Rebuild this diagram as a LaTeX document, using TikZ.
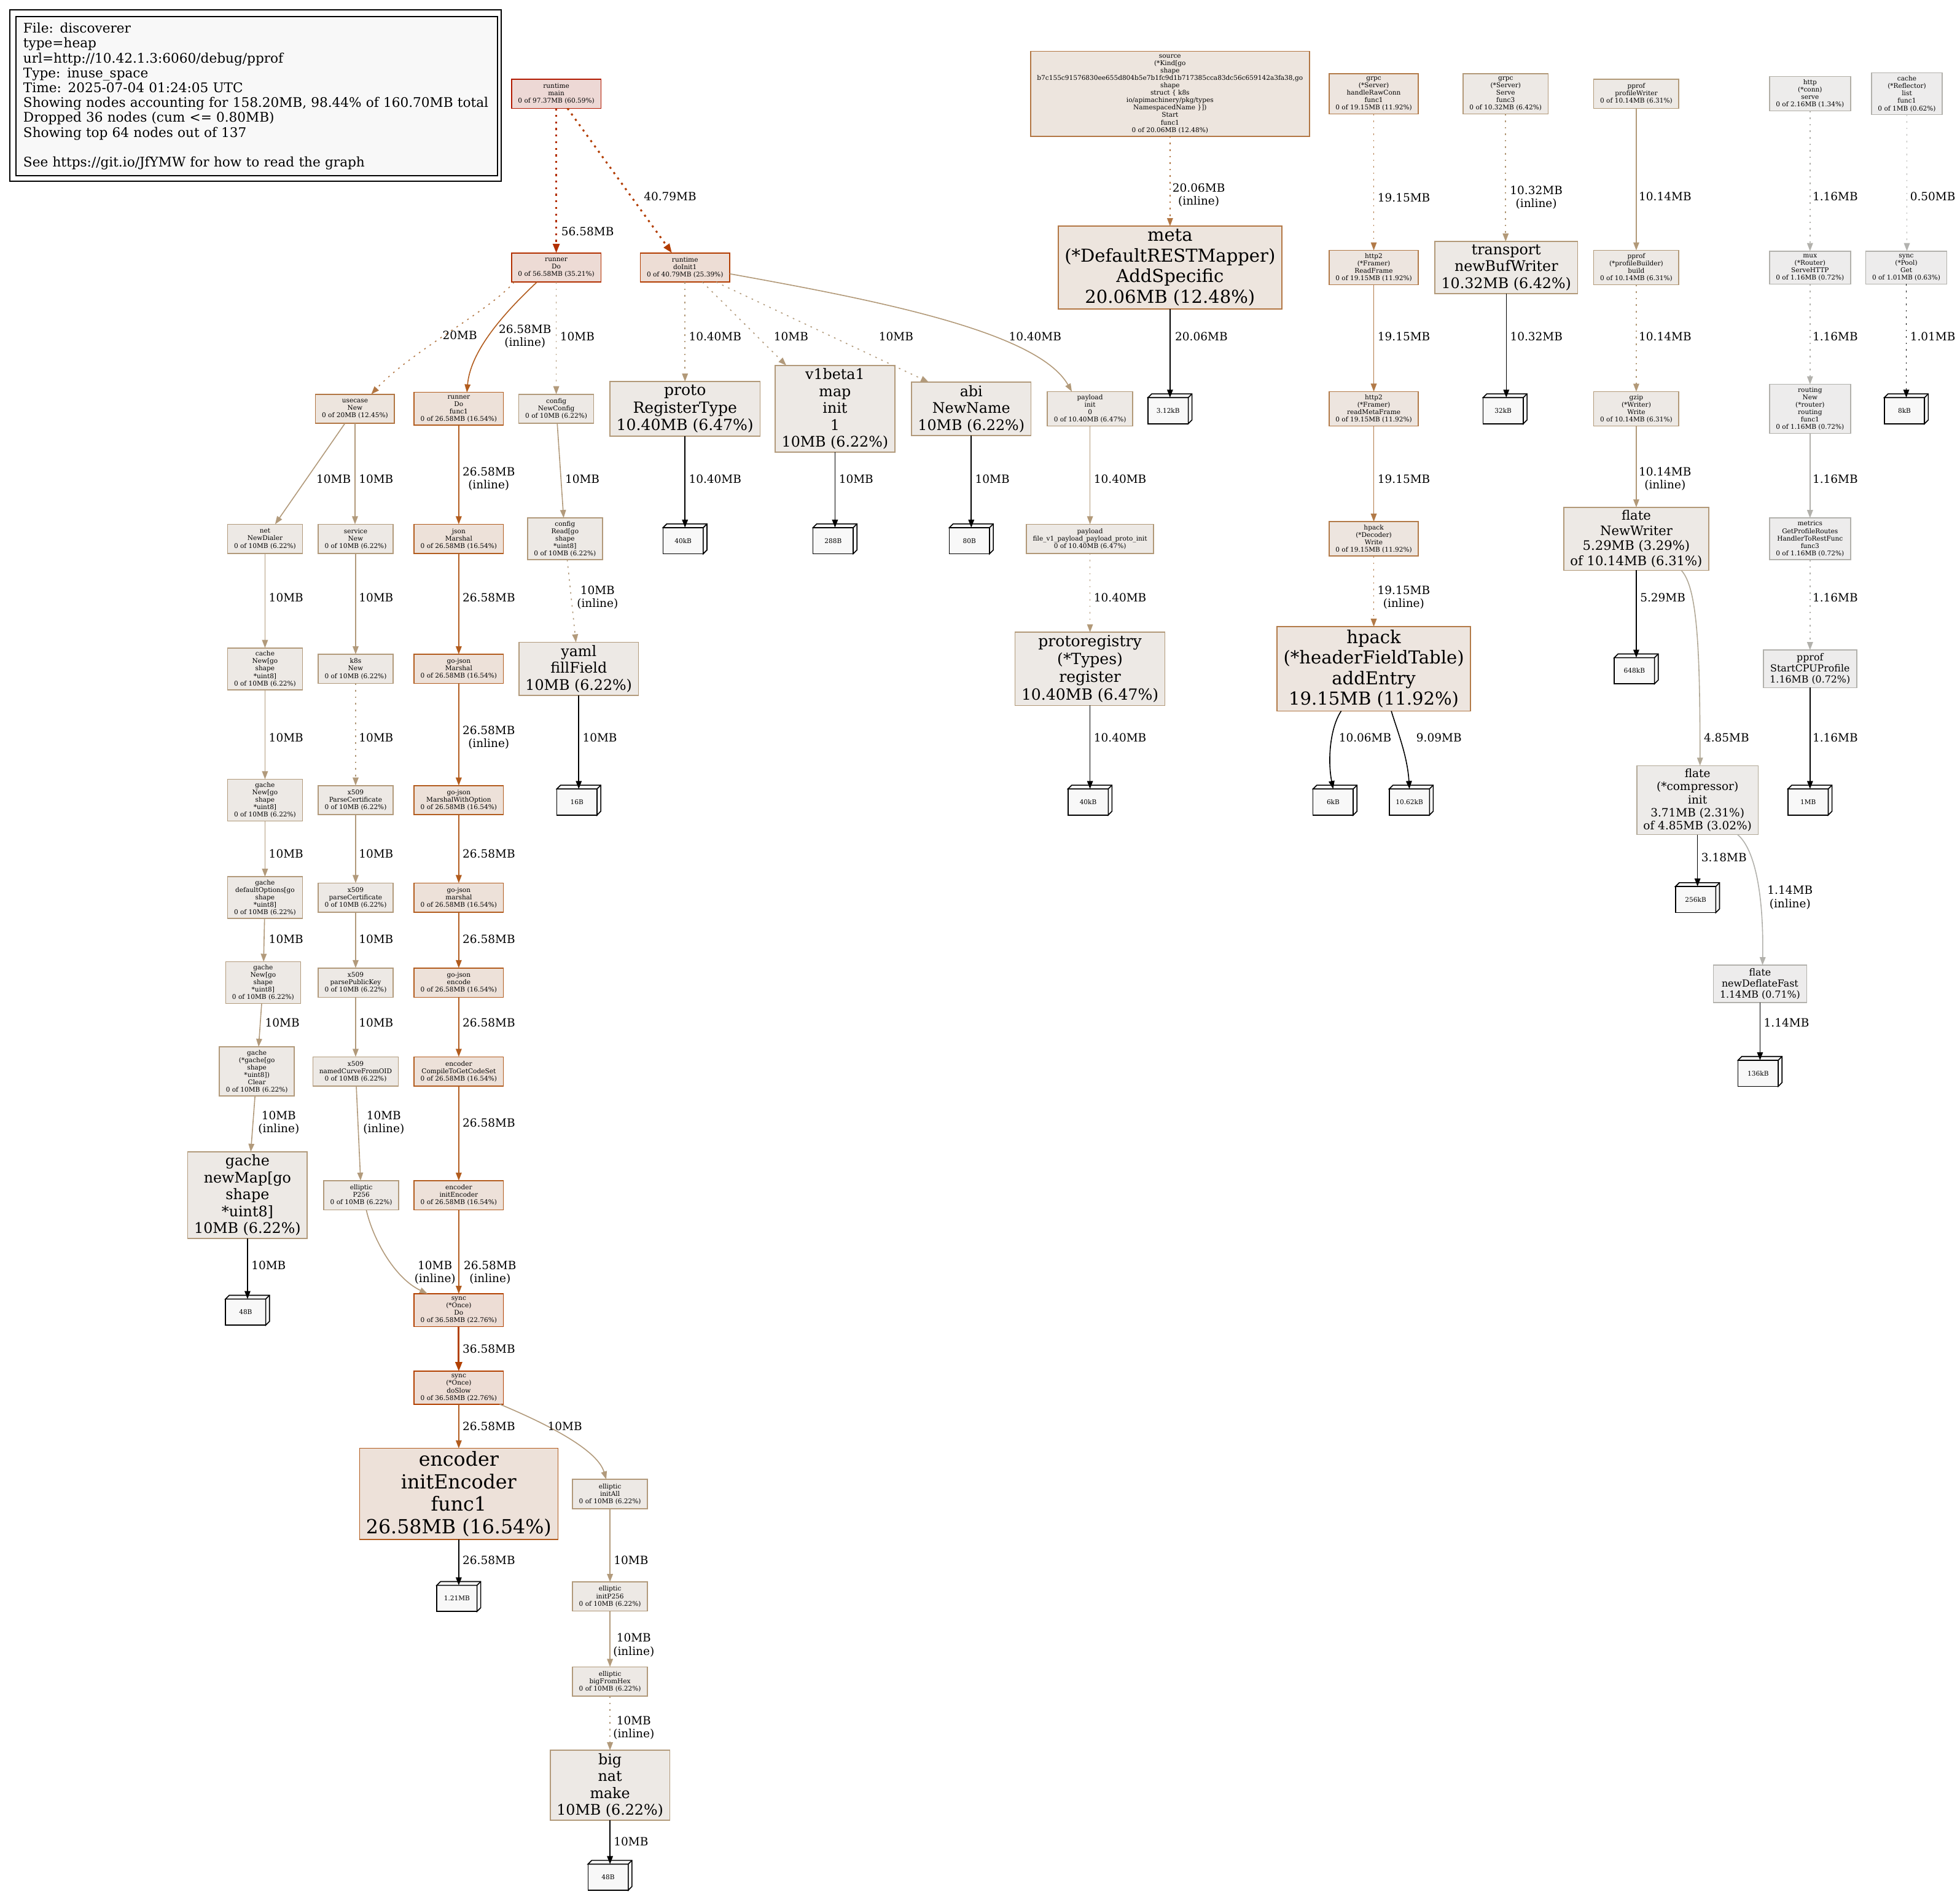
\documentclass[tikz,border=0pt]{standalone}
\usepackage{fontspec}
\setmainfont{DejaVu Serif}
\usetikzlibrary{arrows.meta,calc}
\definecolor{cAb}{HTML}{B21800}\definecolor{cAf}{HTML}{EDD8D5}
\definecolor{cBb}{HTML}{B22F00}\definecolor{cBf}{HTML}{EDDBD5}
\definecolor{cCb}{HTML}{B23C00}\definecolor{cCf}{HTML}{EDDDD5}
\definecolor{cDb}{HTML}{B24000}\definecolor{cDf}{HTML}{EDDDD5}
\definecolor{cEb}{HTML}{B25C1E}\definecolor{cEf}{HTML}{EDE1D9}
\definecolor{cFb}{HTML}{B27643}\definecolor{cFf}{HTML}{EDE5DE}
\definecolor{cGb}{HTML}{B27A48}\definecolor{cGf}{HTML}{EDE5DF}
\definecolor{cHb}{HTML}{B29978}\definecolor{cHf}{HTML}{EDE9E5}
\definecolor{cIb}{HTML}{B29A7B}\definecolor{cIf}{HTML}{EDE9E5}
\definecolor{cJb}{HTML}{B2A997}\definecolor{cJf}{HTML}{EDEBE9}
\definecolor{cKb}{HTML}{B2AFA6}\definecolor{cKf}{HTML}{EDECEB}
\definecolor{cLb}{HTML}{B2B1AC}\definecolor{cLf}{HTML}{EDECEC}
\definecolor{cMb}{HTML}{B2B2AF}
\definecolor{leafbg}{HTML}{F8F8F8}
\tikzset{
  nd/.style={draw, rectangle, line width=1.6pt, align=center, inner xsep=10.5pt, inner ysep=5pt, minimum width=71pt, minimum height=47.5pt, outer sep=0pt},
  fa/.style={font=\fontsize{10.56}{12.1}\selectfont},
  fb/.style={font=\fontsize{15.84}{18.3}\selectfont},
  fc/.style={font=\fontsize{18.48}{21.3}\selectfont},
  fd/.style={font=\fontsize{21.12}{24.4}\selectfont},
  fe/.style={font=\fontsize{23.76}{27.4}\selectfont},
  ff/.style={font=\fontsize{25.08}{28.9}\selectfont},
  fg/.style={font=\fontsize{29.04}{33.5}\selectfont},
  fh/.style={font=\fontsize{31.68}{36.5}\selectfont},
  kA/.style={nd, draw=cAb, fill=cAf}, kB/.style={nd, draw=cBb, fill=cBf},
  kC/.style={nd, draw=cCb, fill=cCf}, kD/.style={nd, draw=cDb, fill=cDf},
  kE/.style={nd, draw=cEb, fill=cEf}, kF/.style={nd, draw=cFb, fill=cFf},
  kG/.style={nd, draw=cGb, fill=cGf}, kH/.style={nd, draw=cHb, fill=cHf},
  kI/.style={nd, draw=cIb, fill=cIf}, kJ/.style={nd, draw=cJb, fill=cJf},
  kK/.style={nd, draw=cKb, fill=cKf}, kL/.style={nd, draw=cLb, fill=cLf},
  leaf/.style={draw=black, line width=1.6pt, fill=leafbg, fa, minimum width=65.5pt, minimum height=42.5pt, inner sep=0pt, outer sep=0pt},
  ed/.style={line width=1.6pt, -{Triangle[length=13pt,width=9.5pt]}},
  edk/.style={ed, draw=black},
  dt/.style={dash pattern=on 2.6pt off 8pt},
  dtk/.style={dash pattern=on 3.3pt off 7.4pt},
  thk/.style={line width=3pt, -{Triangle[length=15pt,width=11pt]}},
  el/.style={font=\fontsize{18.48}{21.5}\selectfont, inner sep=0pt, anchor=west},
  elc/.style={font=\fontsize{18.48}{21.5}\selectfont, inner sep=0pt, align=center},
}
\newcommand\leafnode[4]{%
  \node[leaf] (#1) at (#2-1.5,#3+1.5) {#4};
  \draw[line width=1.6pt, fill=leafbg, line join=miter] (#1.north west) -- ++(3,-3) -- ($(#1.north east)+(3,-3)$) -- ($(#1.south east)+(3,-3)$) -- (#1.south east) -- (#1.north east) -- cycle;
  \draw[line width=1.6pt] (#1.north east) -- ++(3,-3);
}
\begin{document}
\begin{tikzpicture}[x=2.035pt,y=-2.035pt]
\path[use as bounding box, fill=white] (0,0) rectangle (1568,1517);
% legend
\draw[line width=1.6pt] (8,8) rectangle (401,145);
\node[draw=black, line width=1.6pt, fill=leafbg, anchor=north west, minimum width=783.5pt, minimum height=259pt, text width=760pt, inner xsep=11.7pt, inner ysep=0pt, align=left, font=\fontsize{21.6}{24.2}\selectfont] (legend) at (12.5,13) {File: discoverer\\type=heap\\url=http://10.42.1.3:6060/debug/pprof\\Type: inuse\_space\\Time: 2025-07-04 01:24:05 UTC\\Showing nodes accounting for 158.20MB, 98.44\% of 160.70MB total\\Dropped 36 nodes (cum <= 0.80MB)\\Showing top 64 nodes out of 137\\\mbox{}\\See https://git.io/JfYMW for how to read the graph};

% ---------- nodes ----------
\node[kA,fa] (main) at (445,75) {runtime\\main\\0 of 97.37MB (60.59\%)};
\node[kF,fa] (src) at (936,75) {source\\(*Kind[go\\shape\\b7c155c91576830ee655d804b5e7b1fc9d1b717385cca83dc56c659142a3fa38,go\\shape\\struct \{ k8s\\io/apimachinery/pkg/types\\NamespacedName \}])\\Start\\func1\\0 of 20.06MB (12.48\%)};
\node[kG,fa] (grpcA) at (1099,75) {grpc\\(*Server)\\handleRawConn\\func1\\0 of 19.15MB (11.92\%)};
\node[kH,fa] (grpcB) at (1204.5,75) {grpc\\(*Server)\\Serve\\func3\\0 of 10.32MB (6.42\%)};
\node[kH,fa] (ppw) at (1309,75) {pprof\\profileWriter\\0 of 10.14MB (6.31\%)};
\node[kK,fa] (hts) at (1448,75) {http\\(*conn)\\serve\\0 of 2.16MB (1.34\%)};
\node[kL,fa] (crf) at (1525.5,75) {cache\\(*Reflector)\\list\\func1\\0 of 1MB (0.62\%)};

\node[kB,fa] (rdo) at (445,214) {runner\\Do\\0 of 56.58MB (35.21\%)};
\node[kC,fa] (di) at (548,214) {runtime\\doInit1\\0 of 40.79MB (25.39\%)};
\node[kF,fg] (meta) at (936,214) {meta\\(*DefaultRESTMapper)\\AddSpecific\\20.06MB (12.48\%)};
\node[kG,fa] (h2rf) at (1099,214) {http2\\(*Framer)\\ReadFrame\\0 of 19.15MB (11.92\%)};
\node[kH,fe] (tr) at (1205,214) {transport\\newBufWriter\\10.32MB (6.42\%)};
\node[kH,fa] (ppb) at (1309,214) {pprof\\(*profileBuilder)\\build\\0 of 10.14MB (6.31\%)};
\node[kL,fa] (mux) at (1448,214) {mux\\(*Router)\\ServeHTTP\\0 of 1.16MB (0.72\%)};
\node[kL,fa] (pool) at (1525,214) {sync\\(*Pool)\\Get\\0 of 1.01MB (0.63\%)};

\node[kF,fa] (uc) at (284,327) {usecase\\New\\0 of 20MB (12.45\%)};
\node[kE,fa] (rdf) at (367,327) {runner\\Do\\func1\\0 of 26.58MB (16.54\%)};
\node[kI,fa] (cnc) at (445,327) {config\\NewConfig\\0 of 10MB (6.22\%)};
\node[kH,ff] (proto) at (548,327) {proto\\RegisterType\\10.40MB (6.47\%)};
\node[kI,fe] (v1) at (668,327) {v1beta1\\map\\init\\1\\10MB (6.22\%)};
\node[kI,fe] (abi) at (777,327) {abi\\NewName\\10MB (6.22\%)};
\node[kH,fa] (pli) at (872,327) {payload\\init\\0\\0 of 10.40MB (6.47\%)};
\leafnode{L312}{936}{327}{3.12kB}
\node[kG,fa] (h2rm) at (1099,327) {http2\\(*Framer)\\readMetaFrame\\0 of 19.15MB (11.92\%)};
\leafnode{L32k}{1204}{327}{32kB}
\node[kH,fa] (gz) at (1309,327) {gzip\\(*Writer)\\Write\\0 of 10.14MB (6.31\%)};
\node[kL,fa] (rt) at (1448,327) {routing\\New\\(*router)\\routing\\func1\\0 of 1.16MB (0.72\%)};
\leafnode{L8k}{1525}{327}{8kB}

\node[kI,fa] (net) at (212,431) {net\\NewDialer\\0 of 10MB (6.22\%)};
\node[kI,fa] (svc) at (284.5,431) {service\\New\\0 of 10MB (6.22\%)};
\node[kE,fa] (jm) at (367,431) {json\\Marshal\\0 of 26.58MB (16.54\%)};
\node[kI,fa] (crd) at (452,431) {config\\Read[go\\shape\\{}*uint8]\\0 of 10MB (6.22\%)};
\leafnode{L40a}{548}{431}{40kB}
\leafnode{L288}{668}{431}{288B}
\leafnode{L80}{777}{431}{80B}
\node[kH,fa] (plf) at (872,431) {payload\\file\_v1\_payload\_payload\_proto\_init\\0 of 10.40MB (6.47\%)};
\node[kG,fa] (hw) at (1099,431) {hpack\\(*Decoder)\\Write\\0 of 19.15MB (11.92\%)};
\node[kH,fd] (fnw) at (1309,431) {flate\\NewWriter\\5.29MB (3.29\%)\\of 10.14MB (6.31\%)};
\node[kL,fa] (met) at (1448,431) {metrics\\GetProfileRoutes\\HandlerToRestFunc\\func3\\0 of 1.16MB (0.72\%)};

\node[kI,fa] (cn) at (212,535) {cache\\New[go\\shape\\{}*uint8]\\0 of 10MB (6.22\%)};
\node[kI,fa] (k8s) at (284.5,535) {k8s\\New\\0 of 10MB (6.22\%)};
\node[kE,fa] (gjm) at (367,535) {go-json\\Marshal\\0 of 26.58MB (16.54\%)};
\node[kI,fe] (yaml) at (463,535) {yaml\\fillField\\10MB (6.22\%)};
\node[kH,ff] (preg) at (872,535) {protoregistry\\(*Types)\\register\\10.40MB (6.47\%)};
\node[kG,fg] (hae) at (1099,535) {hpack\\(*headerFieldTable)\\addEntry\\19.15MB (11.92\%)};
\leafnode{L648}{1309}{535}{648kB}
\node[kL,fb] (scp) at (1448,535) {pprof\\StartCPUProfile\\1.16MB (0.72\%)};

\node[kI,fa] (gn1) at (212,640) {gache\\New[go\\shape\\{}*uint8]\\0 of 10MB (6.22\%)};
\node[kI,fa] (xpc) at (284.5,640) {x509\\ParseCertificate\\0 of 10MB (6.22\%)};
\node[kE,fa] (gjmo) at (367,640) {go-json\\MarshalWithOption\\0 of 26.58MB (16.54\%)};
\leafnode{L16}{463}{640}{16B}
\leafnode{L40b}{872}{640}{40kB}
\leafnode{L6k}{1068}{640}{6kB}
\leafnode{L1062}{1129}{640}{10.62kB}
\node[kJ,fc] (fci) at (1358,640) {flate\\(*compressor)\\init\\3.71MB (2.31\%)\\of 4.85MB (3.02\%)};
\leafnode{L1MB}{1448}{640}{1MB}

\node[kI,fa] (gdo) at (212,718) {gache\\defaultOptions[go\\shape\\{}*uint8]\\0 of 10MB (6.22\%)};
\node[kI,fa] (xpc2) at (284.5,718) {x509\\parseCertificate\\0 of 10MB (6.22\%)};
\node[kE,fa] (gjml) at (367,718) {go-json\\marshal\\0 of 26.58MB (16.54\%)};
\leafnode{L256}{1358}{718}{256kB}

\node[kI,fa] (gn2) at (210.5,786) {gache\\New[go\\shape\\{}*uint8]\\0 of 10MB (6.22\%)};
\node[kI,fa] (xppk) at (284.5,786) {x509\\parsePublicKey\\0 of 10MB (6.22\%)};
\node[kE,fa] (gje) at (367,786) {go-json\\encode\\0 of 26.58MB (16.54\%)};
\node[kL,fb] (fndf) at (1408,787) {flate\\newDeflateFast\\1.14MB (0.71\%)};

\node[kI,fa] (gcl) at (205.5,857) {gache\\(*gache[go\\shape\\{}*uint8])\\Clear\\0 of 10MB (6.22\%)};
\node[kI,fa] (xnc) at (284.5,857) {x509\\namedCurveFromOID\\0 of 10MB (6.22\%)};
\node[kE,fa] (ecs) at (367,857) {encoder\\CompileToGetCodeSet\\0 of 26.58MB (16.54\%)};
\leafnode{L136}{1408}{857}{136kB}

\node[kI,fe] (gnm) at (198,956) {gache\\newMap[go\\shape\\{}*uint8]\\10MB (6.22\%)};
\node[kI,fa] (p256) at (289,956) {elliptic\\P256\\0 of 10MB (6.22\%)};
\node[kE,fa] (eie) at (367,956) {encoder\\initEncoder\\0 of 26.58MB (16.54\%)};

\leafnode{L48a}{198}{1048}{48B}
\node[kD,fa] (sod) at (367,1048) {sync\\(*Once)\\Do\\0 of 36.58MB (22.76\%)};
\node[kD,fa] (sds) at (367,1110) {sync\\(*Once)\\doSlow\\0 of 36.58MB (22.76\%)};
\node[kE,fh] (eif) at (367,1195) {encoder\\initEncoder\\func1\\26.58MB (16.54\%)};
\node[kI,fa] (eia) at (488,1195) {elliptic\\initAll\\0 of 10MB (6.22\%)};
\leafnode{L121}{367}{1277}{1.21MB}
\node[kI,fa] (eip) at (488,1277) {elliptic\\initP256\\0 of 10MB (6.22\%)};
\node[kI,fa] (ebh) at (488,1345) {elliptic\\bigFromHex\\0 of 10MB (6.22\%)};
\node[kI,fe] (bnm) at (488,1428) {big\\nat\\make\\10MB (6.22\%)};
\leafnode{L48b}{488}{1500}{48B}

% ---------- edges ----------
\draw[thk,dtk,draw=cBb] (main) -- (rdo);
\draw[thk,dtk,draw=cCb] ($(main.south)+(9,0)$) -- ($(di.north)+(-10.5,0)$);
\node[el] (e1) at (449,185) {56.58MB};
\node[el] (e2) at (515,157) {40.79MB};

\draw[ed,dt,draw=cFb] ($(rdo.south west)+(2,0)$) .. controls (390,250) and (330,280) .. ($(uc.north)+(13,0)$);
\node[el] (e3) at (354,268) {20MB};
\draw[ed,draw=cEb] ($(rdo.south)+(-15.5,0)$) .. controls (395,258) and (376,285) .. ($(rdf.north)+(6.5,0)$);
\node[elc] (e4) at (420,269) {26.58MB\\(inline)};
\draw[ed,dt,draw=cIb] (rdo) -- (cnc);
\node[el] (e5) at (448,269) {10MB};
\draw[ed,dt,draw=cHb] (di) -- (proto);
\node[el] (e6) at (551,269) {10.40MB};
\draw[ed,dt,draw=cIb] ($(di.south)+(14,0)$) -- ($(v1.north)+(-39,0)$);
\node[el] (e7) at (619,269) {10MB};
\draw[ed,dt,draw=cIb] ($(di.south)+(25,0)$) -- ($(abi.north)+(-34,0)$);
\node[el] (e8) at (703,269) {10MB};
\draw[ed,draw=cHb] ($(di.east)+(0,5)$) .. controls (700,240) and (830,265) .. ($(pli.north)+(-14.5,0)$);
\node[el] (e9) at (807,269) {10.40MB};

\draw[ed,dt,draw=cFb] (src) -- (meta);
\node[elc] (e10) at (959,156) {20.06MB\\(inline)};
\draw[edk] (meta) -- (meta |- L312.north);
\node[el] (e11) at (940,269) {20.06MB};

\draw[ed,dt,draw=cGb] (grpcA) -- (h2rf);
\node[el] (e12) at (1102,158) {19.15MB};
\draw[ed,draw=cGb] (h2rf) -- (h2rm);
\node[el] (e13) at (1102,269) {19.15MB};
\draw[ed,draw=cGb] (h2rm) -- (hw);
\node[el] (e14) at (1102,383) {19.15MB};
\draw[ed,dt,draw=cGb] (hw) -- (hae);
\node[elc] (e15) at (1123,478) {19.15MB\\(inline)};
\draw[edk] ($(hae.south)+(-26,0)$) .. controls (1064,582) and (1062,608) .. (L6k.north);
\node[el] (e16) at (1071,590) {10.06MB};
\draw[edk] ($(hae.south)+(14,0)$) .. controls (1118,585) and (1126,605) .. (L1062.north);
\node[el] (e17) at (1133,590) {9.09MB};

\draw[ed,dt,draw=cHb] (grpcB) -- (grpcB |- tr.north);
\node[elc] (e18) at (1229,158) {10.32MB\\(inline)};
\draw[edk] (tr) -- (tr |- L32k.north);
\node[el] (e19) at (1208,269) {10.32MB};

\draw[ed,draw=cHb] (ppw) -- (ppb);
\node[el] (e20) at (1311,157) {10.14MB};
\draw[ed,dt,draw=cHb] (ppb) -- (gz);
\node[el] (e21) at (1311,269) {10.14MB};
\draw[ed,draw=cHb] (gz) -- (fnw);
\node[elc] (e22) at (1332,383) {10.14MB\\(inline)};
\draw[edk] (fnw) -- (fnw |- L648.north);
\node[el] (e23) at (1312,478) {5.29MB};
\draw[ed,draw=cJb] ($(fnw.south)+(36,0)$) .. controls (1358,470) and (1360,520) .. ($(fci.north)+(2,0)$);
\node[el] (e24) at (1363,590) {4.85MB};
\draw[edk] (fci) -- (fci |- L256.north);
\node[el] (e25) at (1361,686) {3.18MB};
\draw[ed,draw=cLb] ($(fci.south)+(32,0)$) .. controls (1405,680) and (1411,720) .. ($(fndf.north)+(2,0)$);
\node[elc] (e26) at (1432,718) {1.14MB\\(inline)};
\draw[edk] (fndf) -- (fndf |- L136.north);
\node[el] (e27) at (1411,818) {1.14MB};

\draw[ed,dt,draw=cLb] (hts) -- (mux);
\node[el] (e28) at (1450,157) {1.16MB};
\draw[ed,dt,draw=cLb] (mux) -- (rt);
\node[el] (e29) at (1450,269) {1.16MB};
\draw[ed,draw=cLb] (rt) -- (met);
\node[el] (e30) at (1450,383) {1.16MB};
\draw[ed,dt,draw=cLb] (met) -- (scp);
\node[el] (e31) at (1450,478) {1.16MB};
\draw[edk] (scp) -- (scp |- L1MB.north);
\node[el] (e32) at (1450,590) {1.16MB};

\draw[ed,dt,draw=cMb] (crf) -- (crf |- pool.north);
\node[el] (e33) at (1528,157) {0.50MB};
\draw[edk,dt] (pool) -- (pool |- L8k.north);
\node[el] (e34) at (1528,269) {1.01MB};

% left columns
\draw[ed,draw=cIb] (uc) -- (net);
\node[el] (e35) at (253,383) {10MB};
\draw[ed,draw=cIb] (uc) -- (uc |- svc.north);
\node[el] (e36) at (287,383) {10MB};
\draw[ed,draw=cEb] (rdf) -- (jm);
\node[elc] (e37) at (391,383) {26.58MB\\(inline)};
\draw[ed,draw=cIb] (cnc) -- (crd);
\node[el] (e38) at (452,383) {10MB};
\draw[edk] (proto) -- (proto |- L40a.north);
\node[el] (e39) at (551,383) {10.40MB};
\draw[edk] (v1) -- (v1 |- L288.north);
\node[el] (e40) at (671,383) {10MB};
\draw[edk] (abi) -- (abi |- L80.north);
\node[el] (e41) at (780,383) {10MB};
\draw[ed,draw=cHb] (pli) -- (plf);
\node[el] (e42) at (875,383) {10.40MB};
\draw[ed,dt,draw=cHb] (plf) -- (preg);
\node[el] (e43) at (875,478) {10.40MB};
\draw[edk] (preg) -- (preg |- L40b.north);
\node[el] (e44) at (875,590) {10.40MB};
\draw[ed,dt,draw=cIb] (crd) -- (yaml);
\node[elc] (e45) at (478,478) {10MB\\(inline)};
\draw[edk] (yaml) -- (yaml |- L16.north);
\node[el] (e46) at (466,590) {10MB};

\draw[ed,draw=cIb] (net) -- (cn);
\node[el] (e47) at (215,478) {10MB};
\draw[ed,draw=cIb] (cn) -- (gn1);
\node[el] (e48) at (215,590) {10MB};
\draw[ed,draw=cIb] (gn1) -- (gdo);
\node[el] (e49) at (215,683) {10MB};
\draw[ed,draw=cIb] (gdo) -- (gn2);
\node[el] (e50) at (215,751) {10MB};
\draw[ed,draw=cIb] (gn2) -- (gcl);
\node[el] (e51) at (212,818) {10MB};
\draw[ed,draw=cIb] (gcl) -- (gnm);
\node[elc] (e52) at (223,898) {10MB\\(inline)};
\draw[edk] (gnm) -- (gnm |- L48a.north);
\node[el] (e53) at (201,1012) {10MB};

\draw[ed,draw=cIb] (svc) -- (k8s);
\node[el] (e54) at (287,478) {10MB};
\draw[ed,dt,draw=cIb] (k8s) -- (xpc);
\node[el] (e55) at (287,590) {10MB};
\draw[ed,draw=cIb] (xpc) -- (xpc2);
\node[el] (e56) at (287,683) {10MB};
\draw[ed,draw=cIb] (xpc2) -- (xppk);
\node[el] (e57) at (287,751) {10MB};
\draw[ed,draw=cIb] (xppk) -- (xnc);
\node[el] (e58) at (287,818) {10MB};
\draw[ed,draw=cIb] (xnc) -- (p256);
\node[elc] (e59) at (307,898) {10MB\\(inline)};
\draw[ed,draw=cIb] ($(p256.south)+(4,0)$) .. controls (298,990) and (315,1022) .. ($(sod.north)+(-25,0)$);
\node[elc] (e60) at (348,1018) {10MB\\(inline)};

\draw[ed,draw=cEb] (jm) -- (gjm);
\node[el] (e61) at (370,478) {26.58MB};
\draw[ed,draw=cEb] (gjm) -- (gjmo);
\node[elc] (e62) at (391,590) {26.58MB\\(inline)};
\draw[ed,draw=cEb] (gjmo) -- (gjml);
\node[el] (e63) at (370,683) {26.58MB};
\draw[ed,draw=cEb] (gjml) -- (gje);
\node[el] (e64) at (370,751) {26.58MB};
\draw[ed,draw=cEb] (gje) -- (ecs);
\node[el] (e65) at (370,818) {26.58MB};
\draw[ed,draw=cEb] (ecs) -- (eie);
\node[el] (e66) at (370,898) {26.58MB};
\draw[ed,draw=cEb] (eie) -- (sod);
\node[elc] (e67) at (392,1018) {26.58MB\\(inline)};
\draw[thk,draw=cDb] (sod) -- (sds);
\node[el] (e68) at (370,1079) {36.58MB};
\draw[ed,draw=cEb] (sds) -- (eif);
\node[el] (e69) at (370,1141) {26.58MB};
\draw[ed,draw=cIb] ($(sds.south east)+(-3,0)$) .. controls (440,1140) and (478,1160) .. ($(eia.north)+(-3,0)$);
\node[el] (e70) at (438,1141) {10MB};
\draw[edk] (eif) -- (eif |- L121.north);
\node[el] (e71) at (370,1248) {26.58MB};
\draw[ed,draw=cIb] (eia) -- (eip);
\node[el] (e72) at (491,1248) {10MB};
\draw[ed,draw=cIb] (eip) -- (ebh);
\node[elc] (e73) at (507,1316) {10MB\\(inline)};
\draw[ed,dt,draw=cIb] (ebh) -- (bnm);
\node[elc] (e74) at (507,1382) {10MB\\(inline)};
\draw[edk] (bnm) -- (bnm |- L48b.north);
\node[el] (e75) at (491,1473) {10MB};
\end{tikzpicture}
\end{document}
